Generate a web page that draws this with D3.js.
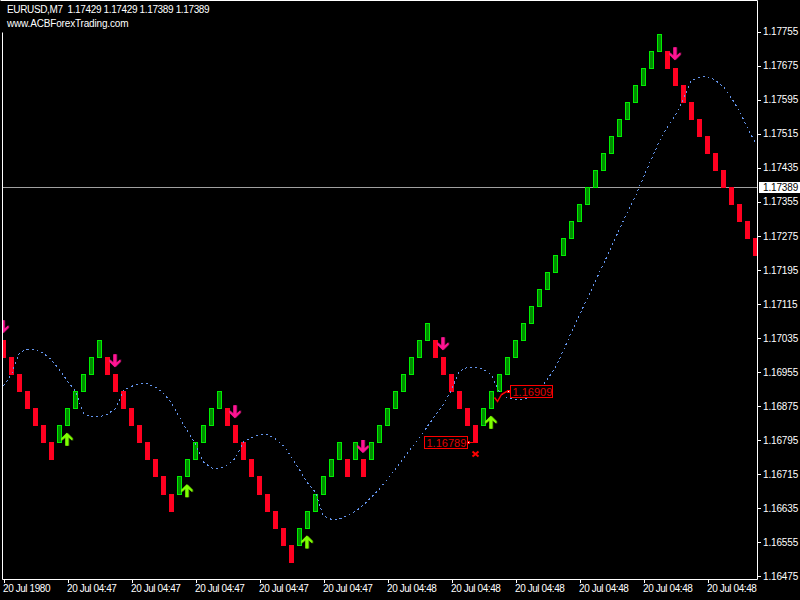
<!DOCTYPE html>
<html>

<head>
    <meta charset="UTF-8">
    <title>EURUSD,M7 renko chart</title>
    <script src="https://d3js.org/d3.v7.min.js"></script>
    <style>
        html, body { margin: 0; padding: 0; background: #000; overflow: hidden; }
        svg { display: block; }
        text { font-family: "Liberation Sans", sans-serif; font-size: 10px; fill: #fff; }
    </style>
</head>

<body>
    <div class="canvas"></div>

    <script>
        // renko boxes, one open and one close per bar
        const opens = [
            1.17029, 1.16989, 1.16949, 1.16909, 1.16869, 1.16829, 1.16789,
            1.16789, 1.16829, 1.16869, 1.16909, 1.16949, 1.16989,
            1.16989, 1.16949, 1.16909, 1.16869, 1.16829, 1.16789, 1.16749, 1.16709, 1.16669,
            1.16669, 1.16709, 1.16749, 1.16789, 1.16829, 1.16869,
            1.16869, 1.16829, 1.16789, 1.16749, 1.16709, 1.16669, 1.16629, 1.16589, 1.16549,
            1.16549, 1.16589, 1.16629, 1.16669, 1.16709, 1.16749,
            1.16749, 1.16749, 1.16749,
            1.16749, 1.16789, 1.16829, 1.16869, 1.16909, 1.16949, 1.16989, 1.17029,
            1.17029, 1.16989, 1.16949, 1.16909, 1.16869, 1.16829,
            1.16829, 1.16869, 1.16909, 1.16949, 1.16989, 1.17029, 1.17069, 1.17109, 1.17149, 1.17189, 1.17229, 1.17269,
            1.17309, 1.17349, 1.17389, 1.17429, 1.17469, 1.17509, 1.17549, 1.17589, 1.17629, 1.17669, 1.17709,
            1.17709, 1.17669, 1.17629, 1.17589, 1.17549, 1.17509, 1.17469, 1.17429, 1.17389, 1.17349, 1.17309, 1.17269
        ];
        const closes = [
            1.16989, 1.16949, 1.16909, 1.16869, 1.16829, 1.16789, 1.16749,
            1.16829, 1.16869, 1.16909, 1.16949, 1.16989, 1.17029,
            1.16949, 1.16909, 1.16869, 1.16829, 1.16789, 1.16749, 1.16709, 1.16669, 1.16629,
            1.16709, 1.16749, 1.16789, 1.16829, 1.16869, 1.16909,
            1.16829, 1.16789, 1.16749, 1.16709, 1.16669, 1.16629, 1.16589, 1.16549, 1.16509,
            1.16589, 1.16629, 1.16669, 1.16709, 1.16749, 1.16789,
            1.16709, 1.16789, 1.16709,
            1.16789, 1.16829, 1.16869, 1.16909, 1.16949, 1.16989, 1.17029, 1.17069,
            1.16989, 1.16949, 1.16909, 1.16869, 1.16829, 1.16789,
            1.16869, 1.16909, 1.16949, 1.16989, 1.17029, 1.17069, 1.17109, 1.17149, 1.17189, 1.17229, 1.17269, 1.17309,
            1.17349, 1.17389, 1.17429, 1.17469, 1.17509, 1.17549, 1.17589, 1.17629, 1.17669, 1.17709, 1.17749,
            1.17669, 1.17629, 1.17589, 1.17549, 1.17509, 1.17469, 1.17429, 1.17389, 1.17349, 1.17309, 1.17269, 1.17229
        ];

        // the dashed moving average, one value per bar
        const maValues = [
            1.16922, 1.16950, 1.17001, 1.17008, 1.17008, 1.16999, 1.16983, 1.16960, 1.16933, 1.16910,
            1.16857, 1.16849, 1.16849, 1.16856, 1.16868, 1.16912, 1.16921, 1.16927, 1.16927, 1.16919,
            1.16905, 1.16882, 1.16848, 1.16815, 1.16786, 1.16743, 1.16729, 1.16728, 1.16735, 1.16752,
            1.16791, 1.16800, 1.16808, 1.16808, 1.16797, 1.16781, 1.16755, 1.16725, 1.16694, 1.16672,
            1.16616, 1.16608, 1.16609, 1.16618, 1.16627, 1.16642, 1.16661, 1.16680, 1.16703, 1.16727,
            1.16752, 1.16776, 1.16800, 1.16827, 1.16853, 1.16879, 1.16913, 1.16957, 1.16966, 1.16966,
            1.16961, 1.16948, 1.16907, 1.16894, 1.16889, 1.16890, 1.16896, 1.16912, 1.16938, 1.16966,
            1.17006, 1.17049, 1.17089, 1.17129, 1.17169, 1.17209, 1.17249, 1.17291, 1.17331, 1.17369,
            1.17413, 1.17456, 1.17498, 1.17531, 1.17559, 1.17597, 1.17641, 1.17648, 1.17649, 1.17641,
            1.17625, 1.17599, 1.17568, 1.17529, 1.17493
        ];

        // signal arrows: bar index and price of the arrow tip
        const downBars = [0, 14, 29, 45, 55, 84];
        const downPrices = [1.17046, 1.16966, 1.16846, 1.16764, 1.17006, 1.17688];
        const upBars = [8, 23, 38, 61];
        const upPrices = [1.16812, 1.16691, 1.16570, 1.16852];

        // closed trade labels
        const tradeBars = [59, 62];
        const tradePrices = [1.16789, 1.16909];

        const priceTicks = [
            1.17755, 1.17675, 1.17595, 1.17515, 1.17435, 1.17355, 1.17275, 1.17195, 1.17115,
            1.17035, 1.16955, 1.16875, 1.16795, 1.16715, 1.16635, 1.16555, 1.16475
        ];
        const currentPrice = 1.17389;
        const timeBars = [0, 8, 16, 24, 32, 40, 48, 56, 64, 72, 80, 88];
        const timeLabels = [
            "20 Jul 1980", "20 Jul 04:47", "20 Jul 04:47", "20 Jul 04:47", "20 Jul 04:47", "20 Jul 04:47",
            "20 Jul 04:48", "20 Jul 04:48", "20 Jul 04:48", "20 Jul 04:48", "20 Jul 04:48", "20 Jul 04:48"
        ];

        const width = 800;
        const height = 600;
        const plot = { left: 3, right: 757, top: 1, bottom: 579 };

        const svg = d3.select(".canvas")
            .append("svg")
            .attr("width", width)
            .attr("height", height);

        svg.append("rect")
            .attr("width", width)
            .attr("height", height)
            .attr("fill", "#000");

        svg.append("clipPath")
            .attr("id", "plot-clip")
            .append("rect")
            .attr("x", plot.left)
            .attr("y", plot.top)
            .attr("width", plot.right - plot.left)
            .attr("height", plot.bottom - plot.top);

        // scales
        const x = d3.scaleLinear().domain([0, 94]).range([3.5, 755.5]);
        const y = d3.scaleLinear().domain([1.17755, 1.16475]).range([31.7, 576]);

        const graph = svg.append("g").attr("clip-path", "url(#plot-clip)");

        // current price line
        graph.append("line")
            .attr("x1", plot.left)
            .attr("x2", plot.right)
            .attr("y1", Math.round(y(currentPrice)) + 0.5)
            .attr("y2", Math.round(y(currentPrice)) + 0.5)
            .attr("stroke", "#a0a0a0");

        // renko bars
        const bars = opens.map((open, i) => ({ i, open, close: closes[i], up: closes[i] > open }));

        graph.selectAll("rect.bar")
            .data(bars)
            .enter()
            .append("rect")
            .attr("class", "bar")
            .attr("shape-rendering", "crispEdges")
            .attr("x", d => x(d.i) - 2.5 + (d.up ? 0.5 : 0))
            .attr("width", d => d.up ? 4 : 5)
            .attr("y", d => Math.round(y(Math.max(d.open, d.close))) + (d.up ? 0.5 : 0))
            .attr("height", d => Math.round(y(Math.min(d.open, d.close))) - Math.round(y(Math.max(d.open, d.close))) + (d.up ? 0 : 1))
            .attr("fill", d => d.up ? "#008c00" : "#ff0020")
            .attr("stroke", d => d.up ? "#00ee00" : "none");

        // moving average
        const maLine = d3.line()
            .x((d, i) => x(i))
            .y(d => y(d));

        graph.append("path")
            .attr("d", maLine(maValues))
            .attr("fill", "none")
            .attr("stroke", "#6495ed")
            .attr("stroke-width", 1)
            .attr("stroke-dasharray", "2,3")
            .attr("shape-rendering", "crispEdges");

        // arrows, drawn from the tip
        const arrowPath = () => {
            const p = d3.path();
            p.moveTo(0, 0);
            p.lineTo(5.5, 5.5);
            p.lineTo(5.5, 8);
            p.lineTo(1.5, 4.5);
            p.lineTo(1.5, 13);
            p.lineTo(-1.5, 13);
            p.lineTo(-1.5, 4.5);
            p.lineTo(-5.5, 8);
            p.lineTo(-5.5, 5.5);
            p.closePath();
            return p.toString();
        };

        const drawArrows = (barList, prices, flip, color, shade) => {
            barList.forEach((bar, i) => {
                const g = graph.append("g")
                    .attr("transform", `translate(${x(bar) - 0.8}, ${y(prices[i])}) scale(1, ${flip})`);
                g.append("path")
                    .attr("d", arrowPath())
                    .attr("transform", "translate(1, 0)")
                    .attr("fill", shade);
                g.append("path")
                    .attr("d", arrowPath())
                    .attr("fill", color);
            });
        };

        drawArrows(downBars, downPrices, -1, "#ff1493", "#a80f62");
        drawArrows(upBars, upPrices, 1, "#7fff00", "#4f9e00");

        // trade markers and their price boxes
        const red = "#ff0000";

        const lossX = x(tradeBars[0]);
        const lossY = Math.round(y(tradePrices[0])) + 0.5;
        graph.append("line")
            .attr("x1", lossX - 9).attr("x2", lossX).attr("y1", lossY).attr("y2", lossY)
            .attr("stroke", red);
        graph.append("path")
            .attr("d", `M${lossX - 3},${lossY + 9}L${lossX + 3},${lossY + 14}M${lossX + 3},${lossY + 9}L${lossX - 3},${lossY + 14}`)
            .attr("stroke", red)
            .attr("stroke-width", 2)
            .attr("fill", "none");

        const winX = x(tradeBars[1]);
        const winY = Math.round(y(tradePrices[1])) + 0.5;
        graph.append("path")
            .attr("d", `M${winX - 5},${winY + 6}L${winX - 2},${winY + 10}L${winX + 2},${winY + 3}L${winX + 7},${winY}L${winX + 9},${winY}`)
            .attr("stroke", red)
            .attr("stroke-width", 1.5)
            .attr("fill", "none");

        const boxes = [
            { x: lossX - 52, w: 43, y: lossY, label: tradePrices[0] },
            { x: winX + 10.5, w: 42, y: winY, label: tradePrices[1] }
        ];

        graph.selectAll("rect.trade-box")
            .data(boxes)
            .enter()
            .append("rect")
            .attr("class", "trade-box")
            .attr("shape-rendering", "crispEdges")
            .attr("x", d => Math.round(d.x) + 0.5)
            .attr("y", d => d.y - 6)
            .attr("width", d => d.w)
            .attr("height", 12)
            .attr("fill", "#000")
            .attr("stroke", red);

        graph.selectAll("text.trade-label")
            .data(boxes)
            .enter()
            .append("text")
            .attr("class", "trade-label")
            .attr("x", d => Math.round(d.x) + 2.5)
            .attr("y", d => d.y + 4)
            .style("fill", "#e00000")
            .style("font-size", "11px")
            .text(d => d.label.toFixed(5));

        // small white squares where the connector meets the box
        graph.selectAll("rect.trade-dot")
            .data([lossX - 9, winX + 8])
            .enter()
            .append("rect")
            .attr("class", "trade-dot")
            .attr("shape-rendering", "crispEdges")
            .attr("x", d => Math.round(d) + 0.5)
            .attr("y", (d, i) => [lossY, winY][i] - 1)
            .attr("width", 2)
            .attr("height", 2)
            .attr("fill", "#fff")
            .attr("stroke", red);

        // axes
        const styleAxis = g => {
            g.select(".domain").remove();
            g.selectAll("line").attr("stroke", "#fff").attr("shape-rendering", "crispEdges");
            g.selectAll("text").style("fill", "#fff").attr("font-family", null).attr("font-size", null);
        };

        const priceAxis = d3.axisRight(y)
            .tickValues(priceTicks)
            .tickFormat(d => d.toFixed(5))
            .tickSize(4)
            .tickPadding(2);

        svg.append("g")
            .attr("transform", `translate(${plot.right}, 0)`)
            .call(priceAxis)
            .call(styleAxis)
            .selectAll("text")
            .style("letter-spacing", "-0.15px");

        const timeAxis = d3.axisBottom(x)
            .tickValues(timeBars)
            .tickFormat((d, i) => timeLabels[i])
            .tickSize(4)
            .tickPadding(2);

        svg.append("g")
            .attr("transform", `translate(0, ${plot.bottom})`)
            .call(timeAxis)
            .call(styleAxis)
            .selectAll("text")
            .attr("text-anchor", "start")
            .attr("dx", -1)
            .style("letter-spacing", "-0.42px");

        // frame
        const frame = [
            [2, 32, 2, plot.bottom],
            [2, plot.bottom, plot.right, plot.bottom],
            [plot.right, 0, plot.right, plot.bottom],
            [0, 0, plot.right, 0]
        ];

        svg.selectAll("line.frame")
            .data(frame)
            .enter()
            .append("line")
            .attr("class", "frame")
            .attr("x1", d => d[0] + 0.5)
            .attr("y1", d => d[1] + 0.5)
            .attr("x2", d => d[2] + 0.5)
            .attr("y2", d => d[3] + 0.5)
            .attr("stroke", "#fff");

        // current price tag
        const tagY = Math.round(y(currentPrice));
        svg.append("rect")
            .attr("x", plot.right + 2)
            .attr("y", tagY - 5)
            .attr("width", width - plot.right - 2)
            .attr("height", 11)
            .attr("fill", "#fff");

        svg.append("text")
            .attr("x", plot.right + 6)
            .attr("y", tagY + 4)
            .style("fill", "#000")
            .style("letter-spacing", "-0.15px")
            .text(currentPrice.toFixed(5));

        // header
        svg.append("text")
            .attr("x", 7)
            .attr("y", 13)
            .text("EURUSD,M7  1.17429 1.17429 1.17389 1.17389")
            .style("white-space", "pre")
            .style("letter-spacing", "-0.36px");

        svg.append("text")
            .attr("x", 7)
            .attr("y", 27)
            .text("www.ACBForexTrading.com")
            .style("letter-spacing", "-0.17px");
    </script>
</body>

</html>
